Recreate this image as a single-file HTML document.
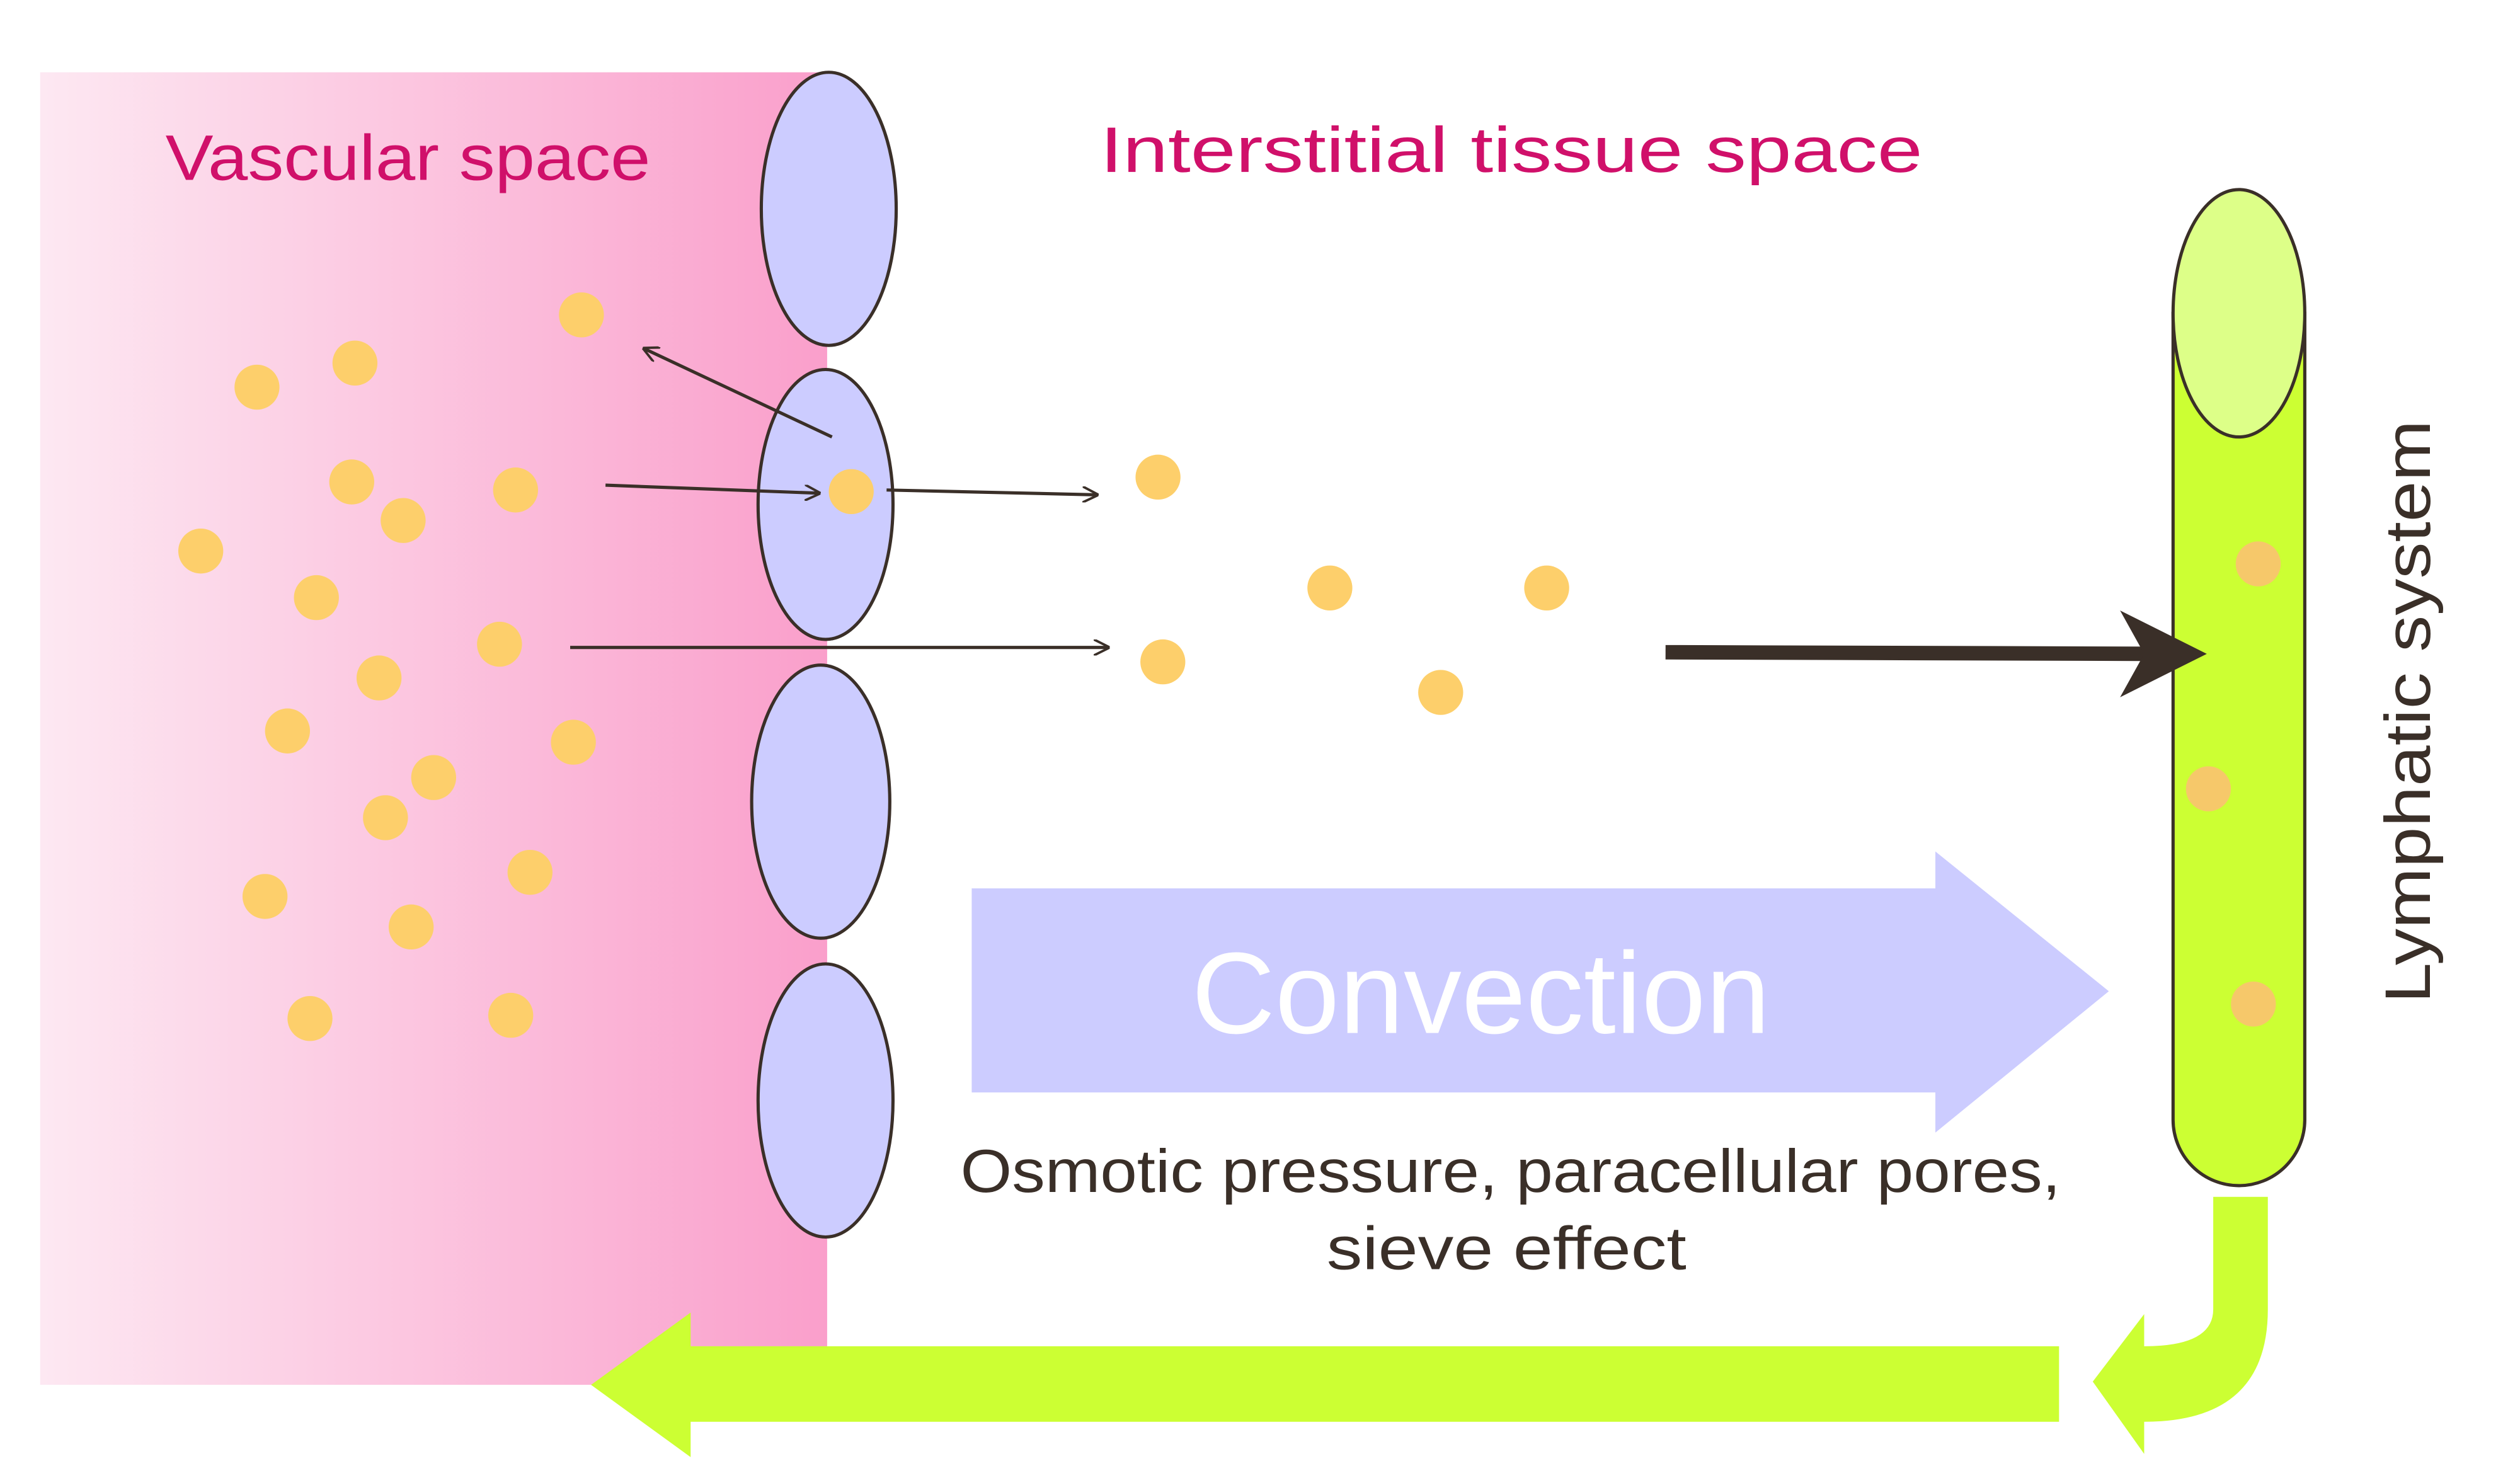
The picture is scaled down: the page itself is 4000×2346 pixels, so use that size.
<!DOCTYPE html>
<html><head><meta charset="utf-8"><style>
html,body{margin:0;padding:0;background:#fff;}
svg{display:block;}
text{font-family:"Liberation Sans",sans-serif;}
</style></head><body>
<svg width="4000" height="2346" viewBox="0 0 1569 920" preserveAspectRatio="none" xmlns="http://www.w3.org/2000/svg">
<defs>
<linearGradient id="pg" x1="0" x2="1" y1="0" y2="0">
<stop offset="0" stop-color="#fde8f2"/><stop offset="1" stop-color="#fa9fcb"/>
</linearGradient>
<marker id="ah" markerWidth="10" markerHeight="10" refX="9" refY="5" orient="auto" markerUnits="userSpaceOnUse" viewBox="0 0 10 10">
<path d="M0,0 L10,5 L0,10" fill="none" stroke="#3a2f28" stroke-width="1.5"/>
</marker>
</defs>
<rect x="25" y="45" width="490" height="817" fill="url(#pg)"/>
<g fill="#ccccff" stroke="#3a2f28" stroke-width="2">
<ellipse cx="516" cy="130" rx="42" ry="85"/>
<ellipse cx="514" cy="314" rx="42" ry="84"/>
<ellipse cx="511" cy="499" rx="43" ry="85"/>
<ellipse cx="514" cy="685" rx="42" ry="85"/>
</g>
<text x="103" y="112" font-size="40" fill="#d0106a" textLength="302" lengthAdjust="spacingAndGlyphs">Vascular space</text>
<text x="685" y="107" font-size="40" fill="#d0106a" textLength="512" lengthAdjust="spacingAndGlyphs">Interstitial tissue space</text>
<g>
<path d="M605,553 L1205,553 L1205,530 L1313,617 L1205,705 L1205,680 L605,680 Z" fill="#ccccff"/>
<text x="922" y="643" font-size="72" fill="#fff" text-anchor="middle">Convection</text>
</g>
<text x="598" y="742" font-size="38" fill="#3a2f28" textLength="685" lengthAdjust="spacingAndGlyphs">Osmotic pressure, paracellular pores,</text>
<text x="826" y="790" font-size="38" fill="#3a2f28" textLength="224" lengthAdjust="spacingAndGlyphs">sieve effect</text>
<g>
<path d="M1353,195 L1353,697 A41,41 0 0 0 1435,697 L1435,195 Z" fill="#ccff33" stroke="#3a2f28" stroke-width="2"/>
<ellipse cx="1394" cy="195" rx="41" ry="77" fill="#ddff88" stroke="#3a2f28" stroke-width="2"/>
</g>
<text transform="translate(1513,443) rotate(-90)" font-size="40" fill="#3a2f28" text-anchor="middle" textLength="363" lengthAdjust="spacingAndGlyphs">Lymphatic system</text>
<g fill="#ccff33">
<path d="M1282,838 L430,838 L430,817 L368,862 L430,907 L430,885 L1282,885 Z"/>
<path d="M1378,745 L1412,745 L1412,815 Q1412,885 1335,885 L1335,905 L1303,860 L1335,818 L1335,838 Q1378,838 1378,815 Z"/>
</g>
<g id="dots"></g>
<g stroke="#3a2f28" stroke-width="2" fill="none">
<line x1="518" y1="272" x2="401" y2="217" marker-end="url(#ah)"/>
<line x1="377" y1="302" x2="510" y2="307" marker-end="url(#ah)"/>
<line x1="552" y1="305" x2="683" y2="308" marker-end="url(#ah)"/>
<line x1="355" y1="403" x2="690" y2="403" marker-end="url(#ah)"/>
</g>
<g>
<line x1="1037" y1="406" x2="1345" y2="407" stroke="#3a2f28" stroke-width="9"/>
<path d="M1320,380 L1374,407 L1320,434 L1335,407 Z" fill="#3a2f28"/>
</g>
</svg>
<script>
const dotX=[362,160,221,219,251,321,125,197,311,236,179,357,270,240,330,165,256,193,318,530,721,828,963,724,897];
const dotY=[196,241,226,300,324,305,343,372,401,422,455,462,484,509,543,558,577,634,632,306,297,366,366,412,431];
const lymX=[1406,1375,1403];
const lymY=[351,491,625];
const g=document.getElementById('dots');
function dot(x,y,fill){
  const c=document.createElementNS('http://www.w3.org/2000/svg','circle');
  c.setAttribute('cx',x);c.setAttribute('cy',y);c.setAttribute('r',14);c.setAttribute('fill',fill);
  
  
  g.appendChild(c);
}
dotX.forEach((x,i)=>dot(x,dotY[i],'#fdcf6b'));
lymX.forEach((x,i)=>dot(x,lymY[i],'#f6c86a'));
</script>
</body></html>
